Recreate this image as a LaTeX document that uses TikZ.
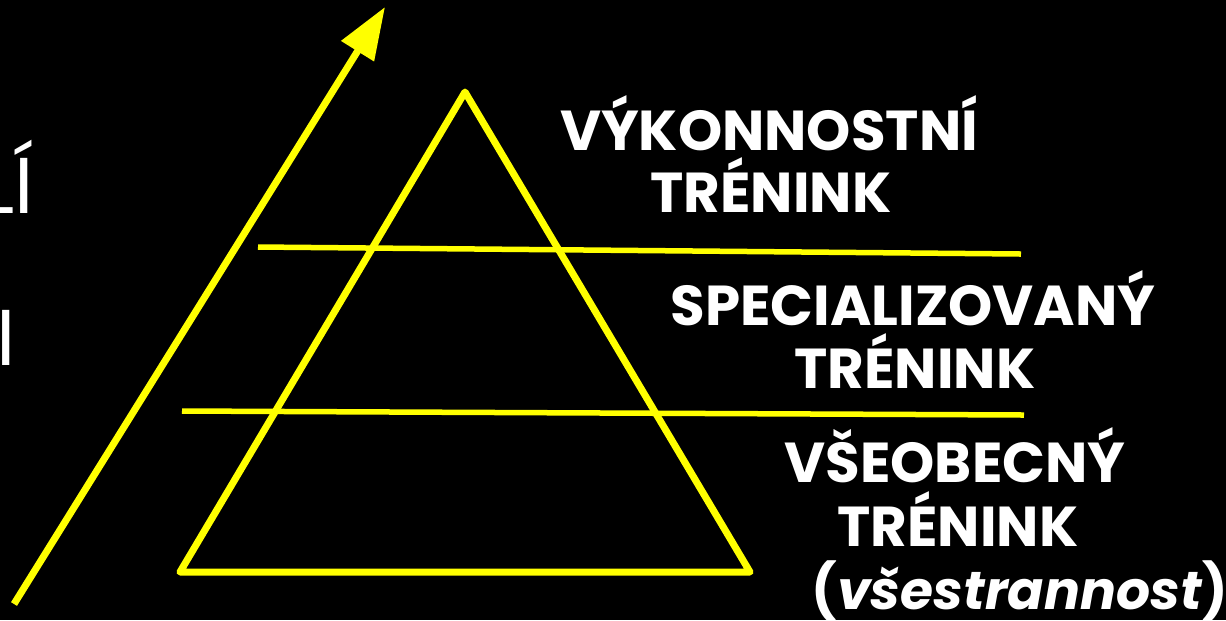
\documentclass[tikz,border=0pt]{standalone}
\usepackage{fontspec}
\setmainfont{Poppins}
\usepackage{tikz}
\usetikzlibrary{arrows.meta,positioning}
\definecolor{ylw}{HTML}{FFFF00}
\tikzset{
  lvl/.style={font=\fontsize{16}{18}\selectfont\bfseries,text=white,anchor=base,inner sep=0pt},
  cuttxt/.style={font=\fontsize{22.5}{25}\selectfont,text=white,anchor=base east,inner sep=0pt},
  tri/.style={draw=ylw,line width=0.07cm,line join=round,line cap=round},
  bar/.style={draw=ylw,line width=0.055cm},
  axis/.style={draw=ylw,line width=0.07cm,-{Triangle[length=0.52cm,width=0.37cm]}},
}
\begin{document}
\begin{tikzpicture}[x=0.01cm,y=-0.01cm]
  \useasboundingbox (0,0) rectangle (1226,620);
  \fill[black] (0,0) rectangle (1226,620);
  % rising arrow
  \coordinate (abot) at (14,604);
  \coordinate (atop) at (385,7);
  \draw[axis] (abot) -- (atop);
  % pyramid
  \coordinate (apex) at (465,92);
  \coordinate (bl) at (180,572);
  \coordinate (br) at (750,572);
  \draw[tri] (apex) -- (bl) -- (br) -- cycle;
  \coordinate (b1l) at (258,247);
  \coordinate (b1r) at (1021,254);
  \coordinate (b2l) at (182,411);
  \coordinate (b2r) at (1024,415);
  \draw[bar] (b1l) -- (b1r);
  \draw[bar] (b2l) -- (b2r);
  % levels
  \node[lvl] (v1) at (769,150) {VÝKONNOSTNÍ};
  \node[lvl] (v2) at (771,212) {TRÉNINK};
  \node[lvl] (s1) at (913,325) {SPECIALIZOVANÝ};
  \node[lvl] (s2) at (915,388) {TRÉNINK};
  \node[lvl] (z1) at (955,482) {VŠEOBECNÝ};
  \node[lvl] (z2) at (958,546) {TRÉNINK};
  \node[lvl,font=\fontsize{15.2}{17}\selectfont\bfseries] (z3) at (1020,609) {(\textit{všestrannost})};
  % cut-off text at the left edge
  \node[cuttxt] (c1) at (35,213) {LÍ};
  \node[cuttxt] (c2) at (17,365) {I};
\end{tikzpicture}
\end{document}
